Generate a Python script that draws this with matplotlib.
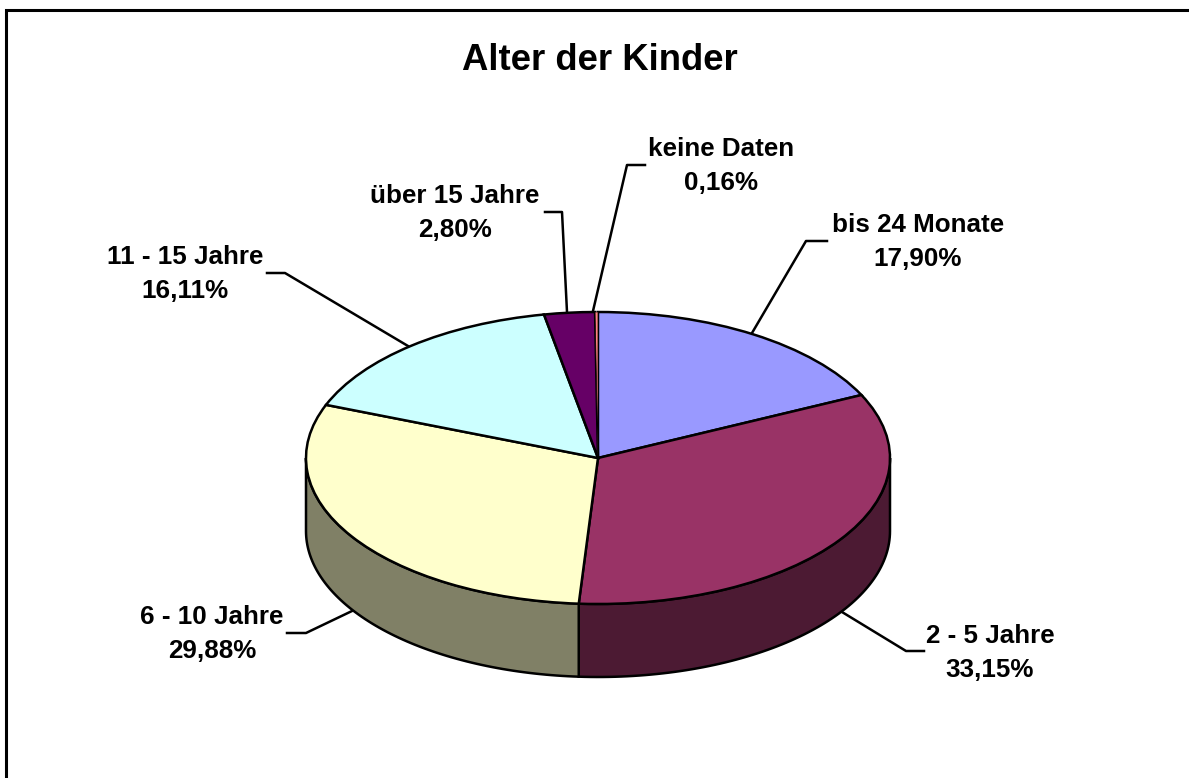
import numpy as np
import matplotlib
matplotlib.use("Agg")
import matplotlib.pyplot as plt
from matplotlib.patches import Wedge, Polygon
from matplotlib.transforms import Affine2D

# pie data, clockwise from 12 o'clock
categories = ['bis 24 Monate', '2 - 5 Jahre', '6 - 10 Jahre', '11 - 15 Jahre', 'über 15 Jahre', 'keine Daten']
values = [17.90, 33.15, 29.88, 16.11, 2.80, 0.16]
value_labels = ['17,90%', '33,15%', '29,88%', '16,11%', '2,80%', '0,16%']
top_colors = ['#9999FF', '#993366', '#FFFFCC', '#CCFFFF', '#660066', '#FF8080']
side_colors = ['#4C4C80', '#4C1A33', '#808066', '#668080', '#330033', '#804040']

W, H = 1189, 778
cx, cy = 598, H - 458
rx, ry = 292, 146
depth = 73

plt.rcParams['font.family'] = ['Liberation Sans', 'DejaVu Sans']
fig = plt.figure(figsize=(W / 100, H / 100), dpi=100)
ax = fig.add_axes([0, 0, 1, 1])
ax.set_xlim(0, W)
ax.set_ylim(0, H)
ax.axis('off')

lw = 1.8
vals = np.array(values)
ends = np.cumsum(vals) / vals.sum() * 360
starts = np.concatenate([[0], ends[:-1]])


def rim(clock_deg, drop=0):
    a = np.radians(clock_deg)
    return cx + rx * np.sin(a), cy + ry * np.cos(a) - drop


# side wall, only the front half of the ellipse shows
for s, e, c in zip(starts, ends, side_colors):
    lo, hi = max(s, 90), min(e, 270)
    if lo >= hi:
        continue
    t = np.linspace(lo, hi, 80)
    x_up, y_up = rim(t)
    x_dn, y_dn = rim(t, depth)
    pts = np.column_stack([np.concatenate([x_up, x_dn[::-1]]), np.concatenate([y_up, y_dn[::-1]])])
    ax.add_patch(Polygon(pts, closed=True, facecolor=c, edgecolor='black', linewidth=lw, zorder=2))

# top surface
squash = Affine2D().scale(1, ry / rx).translate(cx, cy) + ax.transData
for s, e, c in zip(starts, ends, top_colors):
    # the tiny slice would vanish under a full width outline
    ax.add_patch(Wedge((0, 0), rx, 90 - e, 90 - s, facecolor=c, edgecolor='black',
                       linewidth=lw if e - s > 2 else 0.5, transform=squash, zorder=3))

# title and frame
ax.text(600, H - 60, 'Alter der Kinder', ha='center', va='center', fontsize=26.3, fontweight='bold')
ax.plot([6, 6, W], [0, H - 10, H - 10], color='black', lw=2.2, solid_joinstyle='miter', zorder=5)

# label centre, elbow and the point where the leader meets the pie
label_pos = [(918, 242), (990, 653), (212, 634), (185, 274), (455, 213), (721, 166)]
elbows = [(806, 241), (906, 651), (306, 633), (285, 273), (562, 212), (627, 165)]
elbow_ends = [(827, 241), (924, 651), (287, 633), (267, 273), (545, 212), (645, 165)]
leader_hits = [(752, 333), (842, 612), (352, 611), (408, 346), (567, 312), (593, 311)]

for cat, lab, pos, el, ee, hit in zip(categories, value_labels, label_pos, elbows, elbow_ends, leader_hits):
    ax.text(pos[0], H - pos[1], cat + '\n' + lab, ha='center', va='center', fontsize=18.7,
            fontweight='bold', linespacing=1.5, zorder=6)
    ax.plot([ee[0], el[0], hit[0]], [H - ee[1], H - el[1], H - hit[1]], color='black', lw=1.8, zorder=4)

fig.savefig('out.png', dpi=100, facecolor='white')
